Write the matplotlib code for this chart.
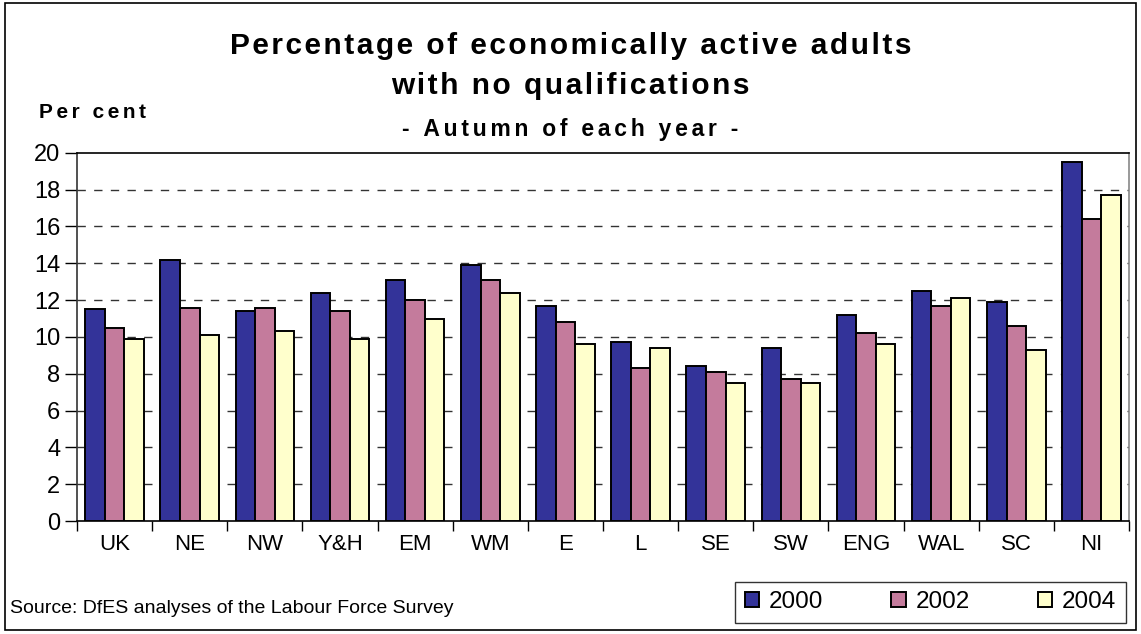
import numpy as np
import matplotlib
matplotlib.use("Agg")
import matplotlib.pyplot as plt
from matplotlib.patches import Rectangle

plt.rcParams['font.family'] = ['Liberation Sans', 'DejaVu Sans']

regions = ['UK', 'NE', 'NW', 'Y&H', 'EM', 'WM', 'E', 'L', 'SE', 'SW', 'ENG', 'WAL', 'SC', 'NI']
y2000 = [11.5, 14.2, 11.4, 12.4, 13.1, 13.9, 11.7, 9.7, 8.4, 9.4, 11.2, 12.5, 11.9, 19.5]
y2002 = [10.5, 11.6, 11.6, 11.4, 12.0, 13.1, 10.8, 8.3, 8.1, 7.7, 10.2, 11.7, 10.6, 16.4]
y2004 = [9.9, 10.1, 10.3, 9.9, 11.0, 12.4, 9.6, 9.4, 7.5, 7.5, 9.6, 12.1, 9.3, 17.7]
years = ['2000', '2002', '2004']
colors = ['#333399', '#C47B9C', '#FFFFCC']


def spaced(s, sep='\u200a'):
    # the original uses loose letter spacing
    return sep.join(s)


fig = plt.figure(figsize=(11.41, 6.34), dpi=100)
ax = fig.add_axes([0.0675, 0.178, 0.922, 0.581])

x = np.arange(len(regions))
w = 0.26
handles = []
for i, (vals, c) in enumerate(zip([y2000, y2002, y2004], colors)):
    b = ax.bar(x + (i - 1) * w, vals, width=w, color=c, edgecolor='black',
               linewidth=1.4, label=years[i], zorder=3)
    handles.append(b)

ax.set_xlim(-0.5, len(regions) - 0.5)
ax.set_ylim(0, 20)
ax.set_yticks(np.arange(0, 21, 2))
ax.set_xticks(x)
ax.set_xticklabels(regions)
ax.set_xticks(np.arange(-0.5, len(regions), 1), minor=True)
ax.tick_params(axis='y', length=9, width=1, labelsize=17, pad=3)
ax.tick_params(axis='x', which='major', length=0, labelsize=16, pad=9)
ax.tick_params(axis='x', which='minor', length=7, width=1)

for v in range(2, 20, 2):
    ax.axhline(v, color='#333333', lw=1, ls=(0, (6, 6)), zorder=1)

ax.spines['top'].set_color('black')
ax.spines['right'].set_color('#888888')
ax.spines['left'].set_color('#333333')
ax.spines['bottom'].set_color('black')
for s in ax.spines.values():
    s.set_linewidth(1.2)

fig.text(0.5, 0.928, spaced('Percentage of economically active adults'), ha='center',
         va='center', fontsize=21.5, fontweight='bold')
fig.text(0.5, 0.865, spaced('with no qualifications'), ha='center', va='center',
         fontsize=21.5, fontweight='bold')
fig.text(0.5, 0.795, spaced('- Autumn of each year -', '\u200a\u200a'), ha='center',
         va='center', fontsize=16.5, fontweight='bold')
fig.text(0.034, 0.822, spaced('Per cent', '\u200a\u200a'), ha='left', va='center',
         fontsize=15, fontweight='bold')
fig.text(0.009, 0.041, 'Source: DfES analyses of the Labour Force Survey', ha='left',
         va='center', fontsize=14)

leg = fig.legend(handles=handles, labels=years, ncol=3, loc='center',
                 bbox_to_anchor=(0.8155, 0.050), fontsize=17.5, frameon=True,
                 fancybox=False, edgecolor='black', handlelength=0.6, handleheight=0.6,
                 columnspacing=2.8, handletextpad=0.4, borderpad=0.4)
leg.get_frame().set_linewidth(1)

fig.patches.append(Rectangle((0.004, 0.006), 0.992, 0.99, transform=fig.transFigure,
                             fill=False, edgecolor='black', linewidth=1.2))

fig.savefig('out.png', dpi=100)
